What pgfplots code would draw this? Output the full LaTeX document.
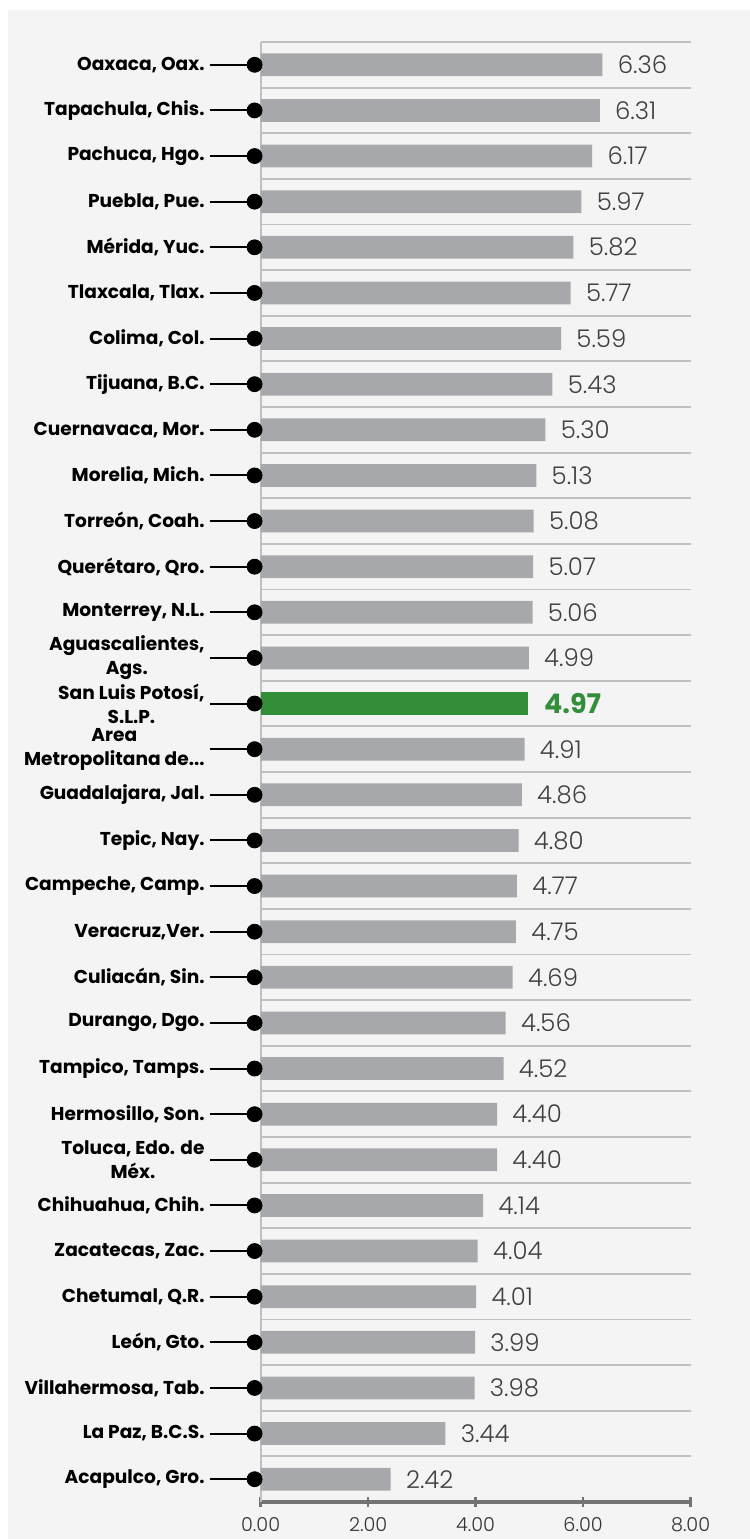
\documentclass[border=0pt]{standalone}
\usepackage{pgfplots}
\pgfplotsset{compat=1.18}
\usepackage{fontspec}
\setmainfont{Liberation Sans}
\newfontfamily\valfont{Poppins}[UprightFont={* Light},BoldFont={* Bold}]
\newfontfamily\labfont{Poppins}[UprightFont={* Bold}]
\definecolor{bgc}{HTML}{F4F4F4}
\definecolor{barg}{HTML}{A7A8AB}
\definecolor{barv}{HTML}{338E3A}
\definecolor{gridc}{HTML}{C0C0C0}
\definecolor{axdark}{HTML}{737373}
\definecolor{valtext}{HTML}{404040}
\definecolor{xt}{HTML}{333333}
\newcommand{\dotsx}{.\kern0pt.\kern0pt.}
\begin{document}
\begin{tikzpicture}
\fill[bgc] (4bp,0) rectangle (375bp,764.5bp);
\useasboundingbox (0,0) rectangle (375bp,769.5bp);
\begin{axis}[
  at={(130.3bp,18.5bp)}, anchor=south west,
  scale only axis, width=215bp, height=730bp,
  xbar, bar width=0.5, bar shift=0pt,
  xmin=0, xmax=8, ymin=0.5, ymax=32.5, enlargelimits=false,
  clip=false,
  axis x line=bottom, axis y line=left, axis line style={-},
  x axis line style={color=axdark, line width=2bp},
  y axis line style={color=gridc, line width=1bp},
  xtick={0,2,4,6,8},
  ytick={1,2,3,4,5,6,7,8,9,10,11,12,13,14,15,16,17,18,19,20,21,22,23,24,25,26,27,28,29,30,31,32},
  yticklabels={{Acapulco, Gro.},{La Paz, B.C.S.},{Villahermosa, Tab.},{León, Gto.},{Chetumal, Q.R.},{Zacatecas, Zac.},{Chihuahua, Chih.},{Toluca, Edo. de\\Méx.},{Hermosillo, Son.},{Tampico, Tamps.},{Durango, Dgo.},{Culiacán, Sin.},{Veracruz,Ver.},{Campeche, Camp.},{Tepic, Nay.},{Guadalajara, Jal.},{Area\\Metropolitana de\dotsx},{San Luis Potosí,\\S.L.P.},{Aguascalientes,\\Ags.},{Monterrey, N.L.},{Querétaro, Qro.},{Torreón, Coah.},{Morelia, Mich.},{Cuernavaca, Mor.},{Tijuana, B.C.},{Colima, Col.},{Tlaxcala, Tlax.},{Mérida, Yuc.},{Puebla, Pue.},{Pachuca, Hgo.},{Tapachula, Chis.},{Oaxaca, Oax.}},
  minor ytick={1.5,2.5,3.5,4.5,5.5,6.5,7.5,8.5,9.5,10.5,11.5,12.5,13.5,14.5,15.5,16.5,17.5,18.5,19.5,20.5,21.5,22.5,23.5,24.5,25.5,26.5,27.5,28.5,29.5,30.5,31.5,32.5},
  yminorgrids, minor grid style={color=gridc, line width=0.9bp},
  minor tick length=0pt,
  tick align=outside, major tick length=25.5bp,
  y tick style={black, line width=1bp},
  x tick style={axdark, line width=1.3bp, /pgfplots/major tick length=5bp, yshift=2.5bp},
  xticklabel style={font=\valfont\fontsize{9.6bp}{10bp}\selectfont, text=xt, yshift=21.5bp},
  xticklabel={\pgfmathprintnumber[fixed,zerofill,precision=2,assume math mode=true]{\tick}},
  yticklabel style={font=\labfont\fontsize{9.3bp}{12bp}\selectfont, align=center, anchor=east, text=black, xshift=1bp},
]
\addplot[fill=barg, draw=none, point meta=x,
  nodes near coords={\pgfmathprintnumber[fixed,zerofill,precision=2,assume math mode=true]{\pgfplotspointmeta}},
  every node near coord/.append style={font=\valfont\fontsize{12.2bp}{14bp}\selectfont, text=valtext, anchor=west, inner sep=0pt, xshift=7.5bp}]
coordinates {
(6.36,32) (6.31,31) (6.17,30) (5.97,29) (5.82,28) (5.77,27) (5.59,26) (5.43,25)
(5.30,24) (5.13,23) (5.08,22) (5.07,21) (5.06,20) (4.99,19)
(4.91,17) (4.86,16) (4.80,15) (4.77,14) (4.75,13) (4.69,12) (4.56,11) (4.52,10)
(4.40,9) (4.40,8) (4.14,7) (4.04,6) (4.01,5) (3.99,4) (3.98,3) (3.44,2) (2.42,1)
};
\addplot[fill=barv, draw=none, point meta=x,
  nodes near coords={\pgfmathprintnumber[fixed,zerofill,precision=2,assume math mode=true]{\pgfplotspointmeta}},
  every node near coord/.append style={font=\valfont\bfseries\fontsize{13.5bp}{15bp}\selectfont, text=barv, anchor=west, inner sep=0pt, xshift=8bp}]
coordinates {(4.97,18)};
\addplot[only marks, mark=*, mark size=3.75bp, black, mark options={xshift=-3bp}]
coordinates {
(0,1) (0,2) (0,3) (0,4) (0,5) (0,6) (0,7) (0,8) (0,9) (0,10) (0,11) (0,12) (0,13) (0,14) (0,15) (0,16)
(0,17) (0,18) (0,19) (0,20) (0,21) (0,22) (0,23) (0,24) (0,25) (0,26) (0,27) (0,28) (0,29) (0,30) (0,31) (0,32)
};
\end{axis}
\end{tikzpicture}
\end{document}
